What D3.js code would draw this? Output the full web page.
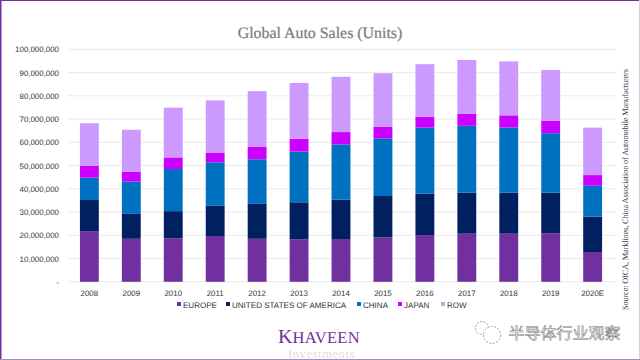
<!DOCTYPE html>
<html><head><meta charset="utf-8">
<script src="https://d3js.org/d3.v7.min.js"></script>
<style>html,body{margin:0;padding:0;background:#fff}svg{display:block;text-rendering:geometricPrecision}</style>
</head><body><svg id="c" width="640" height="360"></svg>
<script>
const years=["2008","2009","2010","2011","2012","2013","2014","2015","2016","2017","2018","2019","2020E"];
const seriesNames=["EUROPE","UNITED STATES OF AMERICA","CHINA","JAPAN","ROW"];
const seriesColors=["#7030a0","#002060","#0070c0","#cc00ff","#cc99ff"];
const europe=[21.8,18.5,18.7,19.7,18.5,18.3,18.4,19.1,20.1,20.7,20.7,20.9,12.8];
const usa=[13.4,10.7,11.7,13.0,15.0,15.9,16.9,17.8,17.8,17.6,17.6,17.4,15.2];
const china=[9.6,13.9,18.1,18.7,19.2,21.8,23.8,24.8,28.4,28.8,28.1,25.6,13.3];
const japan=[5.0,4.3,5.0,4.0,5.3,5.5,5.3,4.9,4.7,5.2,5.2,5.3,4.6];
const row=[18.4,18.0,21.4,22.6,24.0,24.0,23.8,23.1,22.6,23.1,23.2,21.9,20.4];
const yTicks=[0,10,20,30,40,50,60,70,80,90,100];
const yTickLabels=["-","10,000,000","20,000,000","30,000,000","40,000,000","50,000,000","60,000,000","70,000,000","80,000,000","90,000,000","100,000,000"];
const titleText="Global Auto Sales (Units)";
const sourceText="Source: OICA, Marklines, China Association of Automobile Manufacturers";

const svg=d3.select("#c");
const sans="'Liberation Sans',Arial,sans-serif", serif="'Liberation Serif',serif";
const x=d3.scaleBand().domain(years).range([68.4,613.6]).paddingInner(0.55).paddingOuter(0.275);
const y=d3.scaleLinear().domain([0,100]).range([281.8,49.3]);

svg.append("g").selectAll("line").data(yTicks).join("line")
  .attr("x1",68).attr("x2",616).attr("y1",d=>y(d)).attr("y2",d=>y(d))
  .attr("stroke","#eaeaea").attr("stroke-width",1);

const rows=years.map((yr,i)=>({yr,EUROPE:europe[i],"UNITED STATES OF AMERICA":usa[i],CHINA:china[i],JAPAN:japan[i],ROW:row[i]}));
const stacked=d3.stack().keys(seriesNames)(rows);
svg.append("g").selectAll("g").data(stacked).join("g").attr("fill",(d,i)=>seriesColors[i])
  .selectAll("rect").data(d=>d).join("rect")
  .attr("x",d=>x(d.data.yr)).attr("width",x.bandwidth())
  .attr("y",d=>y(d[1])).attr("height",d=>y(d[0])-y(d[1]));

const yAxis=d3.axisLeft(y).tickValues(yTicks).tickFormat((d,i)=>yTickLabels[i]).tickSize(0).tickPadding(9);
const gy=svg.append("g").attr("transform","translate(68,0)").call(yAxis);
gy.select(".domain").remove();
gy.selectAll("text").attr("font-family",sans).attr("font-size",7.9).attr("fill","#333");
const xAxis=d3.axisBottom(x).tickSize(0).tickPadding(7.5);
const gx=svg.append("g").attr("transform","translate(0,283)").call(xAxis);
gx.select(".domain").remove();
gx.selectAll("text").attr("font-family",sans).attr("font-size",7.9).attr("fill","#333");

svg.append("text").attr("x",320).attr("y",38.3).attr("text-anchor","middle")
  .attr("font-family",serif).attr("font-size",15.9).attr("fill","#7a7a7a").attr("stroke","#7a7a7a").attr("stroke-width",0.2).text(titleText);

const legendX=[177,226,357,398,441];
const lg=svg.append("g").selectAll("g").data(seriesNames).join("g")
  .attr("transform",(d,i)=>`translate(${legendX[i]},305)`);
lg.append("rect").attr("x",0).attr("y",-3).attr("width",4).attr("height",4).attr("fill",(d,i)=>seriesColors[i]);
lg.append("text").attr("x",6).attr("y",3).attr("font-family",sans).attr("font-size",8.05).attr("fill","#333").text(d=>d);

svg.append("text").attr("transform","translate(628,310) rotate(-90)")
  .attr("font-family",serif).attr("font-size",8.4).attr("textLength",241).attr("lengthAdjust","spacing").attr("fill","#404040").text(sourceText);

const logo=svg.append("text").attr("x",278).attr("y",343).attr("font-family",serif).attr("fill","#7030a0");
logo.append("tspan").attr("font-size",20).text("K");
logo.append("tspan").attr("font-size",16.5).attr("letter-spacing",0.3).text("HAVEEN");
svg.append("text").attr("x",288).attr("y",358.3).attr("font-family",serif).attr("font-size",12.5).attr("letter-spacing",0.6).attr("fill","#dcdcdc").text("Investments");

const wm=svg.append("g").attr("fill","#fff").attr("stroke","#8a8a8a").attr("stroke-width",0.8).attr("stroke-dasharray","2 1.5");
wm.append("circle").attr("cx",482).attr("cy",328).attr("r",6.5);
wm.append("circle").attr("cx",492).attr("cy",335).attr("r",8.5);
svg.append("text").attr("x",508.5).attr("y",339).attr("font-family","'Noto Sans CJK SC'").attr("font-size",16)
  .attr("fill","#fff").attr("stroke","#777").attr("stroke-width",0.55).text("半导体行业观察");

svg.append("rect").attr("x",0).attr("y",0).attr("width",640).attr("height",1).attr("fill","#7030a0");
svg.append("rect").attr("x",0).attr("y",0).attr("width",1.5).attr("height",360).attr("fill","#7030a0");
svg.append("rect").attr("x",639).attr("y",0).attr("width",1).attr("height",360).attr("fill","#d8cfe6");
svg.append("rect").attr("x",0).attr("y",359).attr("width",640).attr("height",1).attr("fill","#a08fc0");
</script></body></html>
